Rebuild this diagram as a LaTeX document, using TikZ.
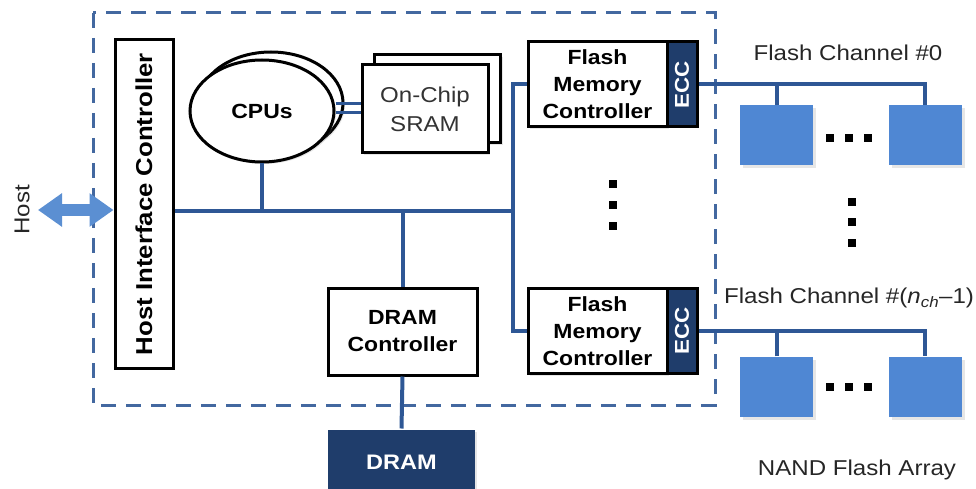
\documentclass[tikz,border=0pt]{standalone}
\usepackage{fontspec}
\setmainfont[FakeStretch=1.12]{Liberation Sans}
\usetikzlibrary{shapes.geometric,arrows.meta,shadows}

\definecolor{busblue}{HTML}{2E5795}
\definecolor{eccnavy}{HTML}{1F3D6B}
\definecolor{chipblue}{HTML}{4F87D3}
\definecolor{hostblue}{HTML}{5B8FD2}

\begin{document}
\begin{tikzpicture}[x=1pt, y=-1pt,
    bus/.style={busblue, line width=4pt},
    box/.style={draw=black, fill=white, line width=3pt, inner sep=0pt, align=center,
        font=\fontsize{20.5}{27}\selectfont\bfseries,
        drop shadow={opacity=0.2, shadow xshift=2pt, shadow yshift=-2pt}},
    cpubox/.style={box, ellipse, minimum width=144pt, minimum height=102pt},
    srambox/.style={box, minimum width=126pt, minimum height=88pt,
        font=\fontsize{21.5}{29}\selectfont, text=black!80},
    fmcbox/.style={box, minimum width=139pt, minimum height=85pt},
    eccbox/.style={draw=black, fill=eccnavy, text=white, line width=3pt, inner sep=0pt,
        minimum width=30pt, minimum height=85pt, font=\fontsize{20}{20}\selectfont\bfseries},
    chip/.style={fill=chipblue, minimum width=73pt, minimum height=60pt, inner sep=0pt,
        drop shadow={opacity=0.2, shadow xshift=3pt, shadow yshift=-3pt}},
    dot/.style={fill=black, minimum size=8pt, inner sep=0pt},
    lbl/.style={font=\fontsize{21.5}{29}\selectfont, text=black!85, align=center}]

    \useasboundingbox (0,0) rectangle (976,489);

    % controller boundary
    \draw[busblue!90, line width=3pt, dash pattern=on 15pt off 10pt] (93,13) rectangle (715,405);

    \node[box, minimum width=58pt, minimum height=328pt, font=\fontsize{23}{23}\selectfont\bfseries]
        (hic) at (144,204) {\rotatebox{90}{Host Interface Controller}};
    \node[lbl] (host) at (22,210) {\rotatebox{90}{Host}};
    \coordinate (hosttip) at (38,210);

    \node[cpubox] (cpuback) at (271,103) {};
    \node[cpubox] (cpu) at (262,111) {CPUs};

    \node[srambox] (sramback) at (437.5,99) {};
    \node[srambox] (sram) at (425,109) {On-Chip\\SRAM};

    \node[fmcbox] (fmc0) at (597.5,84.5) {Flash\\Memory\\Controller};
    \node[eccbox] (ecc0) at (682,84.5) {\rotatebox{90}{ECC}};
    \node[fmcbox] (fmc1) at (597.5,331) {Flash\\Memory\\Controller};
    \node[eccbox] (ecc1) at (682,331) {\rotatebox{90}{ECC}};

    \node[box, minimum width=149pt, minimum height=87pt] (dramctl) at (402.5,331.5) {DRAM\\Controller};
    \node[box, draw=none, fill=eccnavy, text=white, minimum width=147pt, minimum height=64pt,
        font=\fontsize{21}{21}\selectfont\bfseries] (dram) at (401.5,462) {DRAM};

    \node[chip] (chip00) at (776.5,135) {};
    \node[chip] (chip01) at (925,135) {};
    \node[chip] (chip10) at (776.5,386.5) {};
    \node[chip] (chip11) at (925,386.5) {};

    \node[lbl] (chan0) at (848,53) {Flash Channel \#0};
    \node[lbl] (chanN) at (849,298) {Flash Channel \#(\textit{n}\textsubscript{\textit{ch}}--1)};
    \node[lbl] (nand) at (857,470) {NAND Flash Array};

    % host link
    \draw[hostblue, line width=12pt, {Triangle[width=32pt,length=24pt]}-{Triangle[width=32pt,length=24pt]}]
        (hosttip) -- (hic.west |- hosttip);

    % system bus
    \coordinate (busend) at (513,211);
    \draw[bus] (hic.east |- busend) -- (busend);
    \draw[bus] (cpu.south) -- (cpu.south |- busend);
    \draw[bus] (dramctl.north) -- (dramctl.north |- busend);
    \draw[bus] (fmc0.west) -| (busend) |- (fmc1.west);
    \draw[bus] (dramctl.south) -- (dram.north);

    \draw[busblue, line width=3pt] ([yshift=7pt]cpu.east) -- ([yshift=7pt]cpu.east -| sram.west);
    \draw[busblue, line width=3pt] ([yshift=-2pt]cpu.east) -- ([yshift=-2pt]cpu.east -| sram.west);

    % flash channels
    \draw[bus] (ecc0.east) -| (chip01.north);
    \draw[bus] (chip00.north) -- (chip00.north |- ecc0.east);
    \draw[bus] (ecc1.east) -| (chip11.north);
    \draw[bus] (chip10.north) -- (chip10.north |- ecc1.east);

    \foreach \x in {830,849,868} {
        \node[dot] (top\x) at (\x,138) {};
        \node[dot] (bot\x) at (\x,387) {};
    }
    \foreach \y in {184,205,226} \node[dot] (mid\y) at (613,\y) {};
    \foreach \y in {202,222,243} \node[dot] (arr\y) at (852,\y) {};

\end{tikzpicture}
\end{document}
